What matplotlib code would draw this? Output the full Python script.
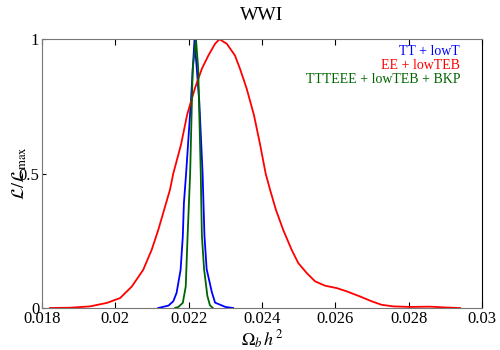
import numpy as np
import matplotlib
matplotlib.use('Agg')
import matplotlib.pyplot as plt

plt.rcParams['font.family'] = ['Liberation Serif', 'DejaVu Serif']
plt.rcParams['mathtext.fontset'] = 'stix'

# TT + lowT
x_tt = [0.02117, 0.02145, 0.02158, 0.02167, 0.02178, 0.02184, 0.02187, 0.02193,
        0.02206, 0.02216, 0.02229, 0.02238, 0.02243, 0.02249, 0.02263,
        0.02272, 0.02300, 0.02321]
y_tt = [0.0, 0.009, 0.025, 0.056, 0.142, 0.266, 0.39, 0.5,
        0.767, 1.0, 0.767, 0.5, 0.27, 0.145, 0.06,
        0.02, 0.004, 0.0]

# EE + lowTEB
x_ee = [0.01822, 0.01876, 0.01931, 0.01977, 0.02013, 0.02045, 0.02076, 0.02099,
        0.02117, 0.02133, 0.02149, 0.02158, 0.02179, 0.02196, 0.02217, 0.02236,
        0.02254, 0.02272, 0.02284, 0.02304, 0.02326, 0.0234, 0.02358, 0.02378,
        0.02395, 0.02410, 0.02422, 0.02438, 0.02458, 0.02481, 0.02499, 0.02522,
        0.02545, 0.02572, 0.02604, 0.02631, 0.02667, 0.02699, 0.02726, 0.02758,
        0.02804, 0.02858, 0.0290, 0.0294]
y_ee = [0.0, 0.001, 0.006, 0.019, 0.037, 0.08, 0.142, 0.216,
        0.29, 0.365, 0.44, 0.5, 0.607, 0.72, 0.817, 0.89,
        0.94, 0.983, 1.0, 0.983, 0.94, 0.89, 0.817, 0.718,
        0.607, 0.5, 0.44, 0.365, 0.29, 0.216, 0.167, 0.13,
        0.099, 0.083, 0.074, 0.062, 0.043, 0.025, 0.012, 0.006,
        0.004, 0.005, 0.002, 0.0]

# TTTEEE + lowTEB + BKP
x_all = [0.02163, 0.02172, 0.02184, 0.02192, 0.02197, 0.02204, 0.02211, 0.0222,
         0.02226, 0.02233, 0.02236, 0.02242, 0.02251, 0.02258, 0.02266]
y_all = [0.0, 0.004, 0.019, 0.08, 0.266, 0.5, 0.89, 1.0,
         0.89, 0.5, 0.27, 0.145, 0.045, 0.01, 0.0]

labels = ['TT + lowT', 'EE + lowTEB', 'TTTEEE + lowTEB + BKP']
colors = ['blue', 'red', 'darkgreen']

fig = plt.figure(figsize=(5, 3.5), dpi=100)
ax = fig.add_axes([0.084, 0.12, 0.88, 0.768])

h1, = ax.plot(x_tt, y_tt, color=colors[0], lw=1.3)
h2, = ax.plot(x_ee, y_ee, color=colors[1], lw=1.3)
h3, = ax.plot(x_all, y_all, color=colors[2], lw=1.3)

ax.set_xlim(0.018, 0.03)
ax.set_ylim(0, 1)
ax.set_xticks([0.018, 0.02, 0.022, 0.024, 0.026, 0.028, 0.03])
ax.set_xticklabels(['0.018', '0.02', '0.022', '0.024', '0.026', '0.028', '0.03'])
ax.set_yticks([0, 0.5, 1])
ax.set_yticklabels(['0', '0.5', '1'])
ax.tick_params(axis='x', direction='in', top=True, length=4, labelsize=12, pad=2)
ax.tick_params(axis='y', direction='in', length=3, labelsize=12, pad=2)

for s in ['left', 'top', 'bottom']:
    ax.spines[s].set_color('#777777')
ax.spines['right'].set_color('black')

ax.set_xlabel(r'$\Omega_b\,h^2$', fontsize=13, labelpad=1)
ax.set_ylabel(r'$\mathcal{L}/\mathcal{L}_{\rm max}$', fontsize=13, labelpad=-8)
ax.set_title('WWI', fontsize=14, pad=14)

leg = ax.legend([h1, h2, h3], labels, loc='upper right', frameon=False,
                handlelength=0, handletextpad=0, fontsize=10,
                labelspacing=0.05, alignment='right', markerfirst=False,
                borderpad=0, borderaxespad=0, bbox_to_anchor=(0.95, 0.978))
for t, c in zip(leg.get_texts(), colors):
    t.set_color(c)
for h in leg.legend_handles:
    h.set_visible(False)

fig.savefig('out.png', dpi=100)
